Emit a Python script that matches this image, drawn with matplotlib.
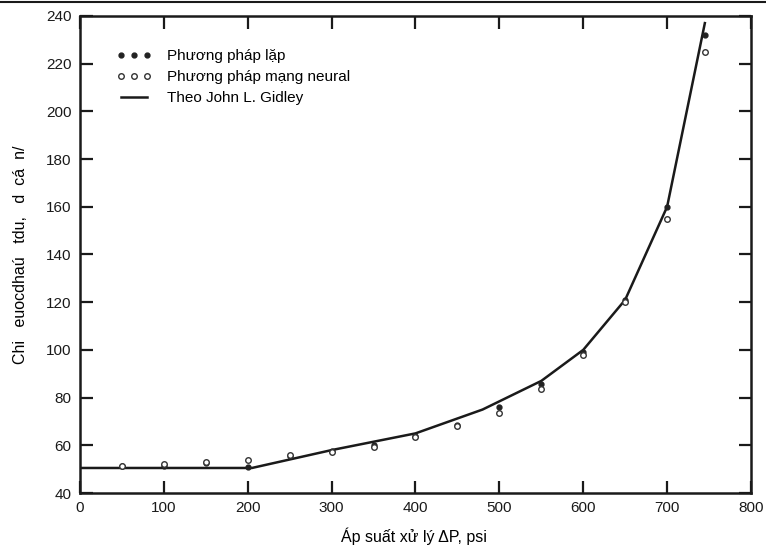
import numpy as np
import matplotlib
matplotlib.use('Agg')
import matplotlib.pyplot as plt
from matplotlib.lines import Line2D

plt.rcParams['font.family'] = ['Liberation Sans', 'DejaVu Sans']

# pressure (psi)
dp = [50, 100, 150, 200, 250, 300, 350, 400, 450, 500, 550, 600, 650, 700, 745]
# iterative method
y_lap = [51.5, 51.5, 52.5, 51, 55.5, 57.5, 60, 64, 68.5, 76, 85.5, 99, 121, 160, 232]
# neural network method
y_neural = [51.5, 52, 53, 54, 56, 57, 59.5, 63.5, 68, 73.5, 83.5, 98, 120, 155, 225]
# John L. Gidley curve
dp_gidley = [0, 205, 300, 400, 480, 550, 600, 650, 700, 745]
y_gidley = [50.5, 50.5, 58, 65, 75, 87, 100, 121, 160, 237]

fig = plt.figure(figsize=(7.66, 5.5), dpi=100)
ax = fig.add_axes([0.1044, 0.1036, 0.876, 0.8674])

ax.plot(dp_gidley, y_gidley, color='#1a1a1a', lw=1.8, label='Theo John L. Gidley', zorder=2)
ax.plot(dp, y_lap, ls='none', marker='o', ms=3.5, color='#222222',
        label='Phương pháp lặp', zorder=3)
ax.plot(dp, y_neural, ls='none', marker='o', ms=4, mfc='white', mec='#333333', mew=1.0,
        label='Phương pháp mạng neural', zorder=3)

ax.set_xlim(0, 800)
ax.set_ylim(40, 240)
ax.set_xticks(range(0, 801, 100))
ax.set_yticks(range(40, 241, 20))
ax.tick_params(direction='in', length=9, width=1.6, labelsize=11, top=True, right=True,
               colors='#1a1a1a', pad=6)
for s in ax.spines.values():
    s.set_linewidth(1.8)
    s.set_color('#1a1a1a')

ax.set_xlabel('Áp suất xử lý ΔP, psi', fontsize=11.5, labelpad=9, x=0.497)
ax.set_ylabel('Chi   euocdhaú   tdu,   d  cá  n/', fontsize=11.5, labelpad=13)

handles, labels = ax.get_legend_handles_labels()
order = [1, 2, 0]
ax.legend([handles[i] for i in order], [labels[i] for i in order],
          loc='upper left', bbox_to_anchor=(0.055, 0.93), frameon=False,
          numpoints=3, handlelength=2.3, handletextpad=1.0, borderpad=0,
          borderaxespad=0, labelspacing=0.45, fontsize=11)

# scanned page border at the top
fig.add_artist(Line2D([0, 1], [0.996, 0.996], color='#1a1a1a', lw=1.5))

fig.savefig('out.png', dpi=100)
